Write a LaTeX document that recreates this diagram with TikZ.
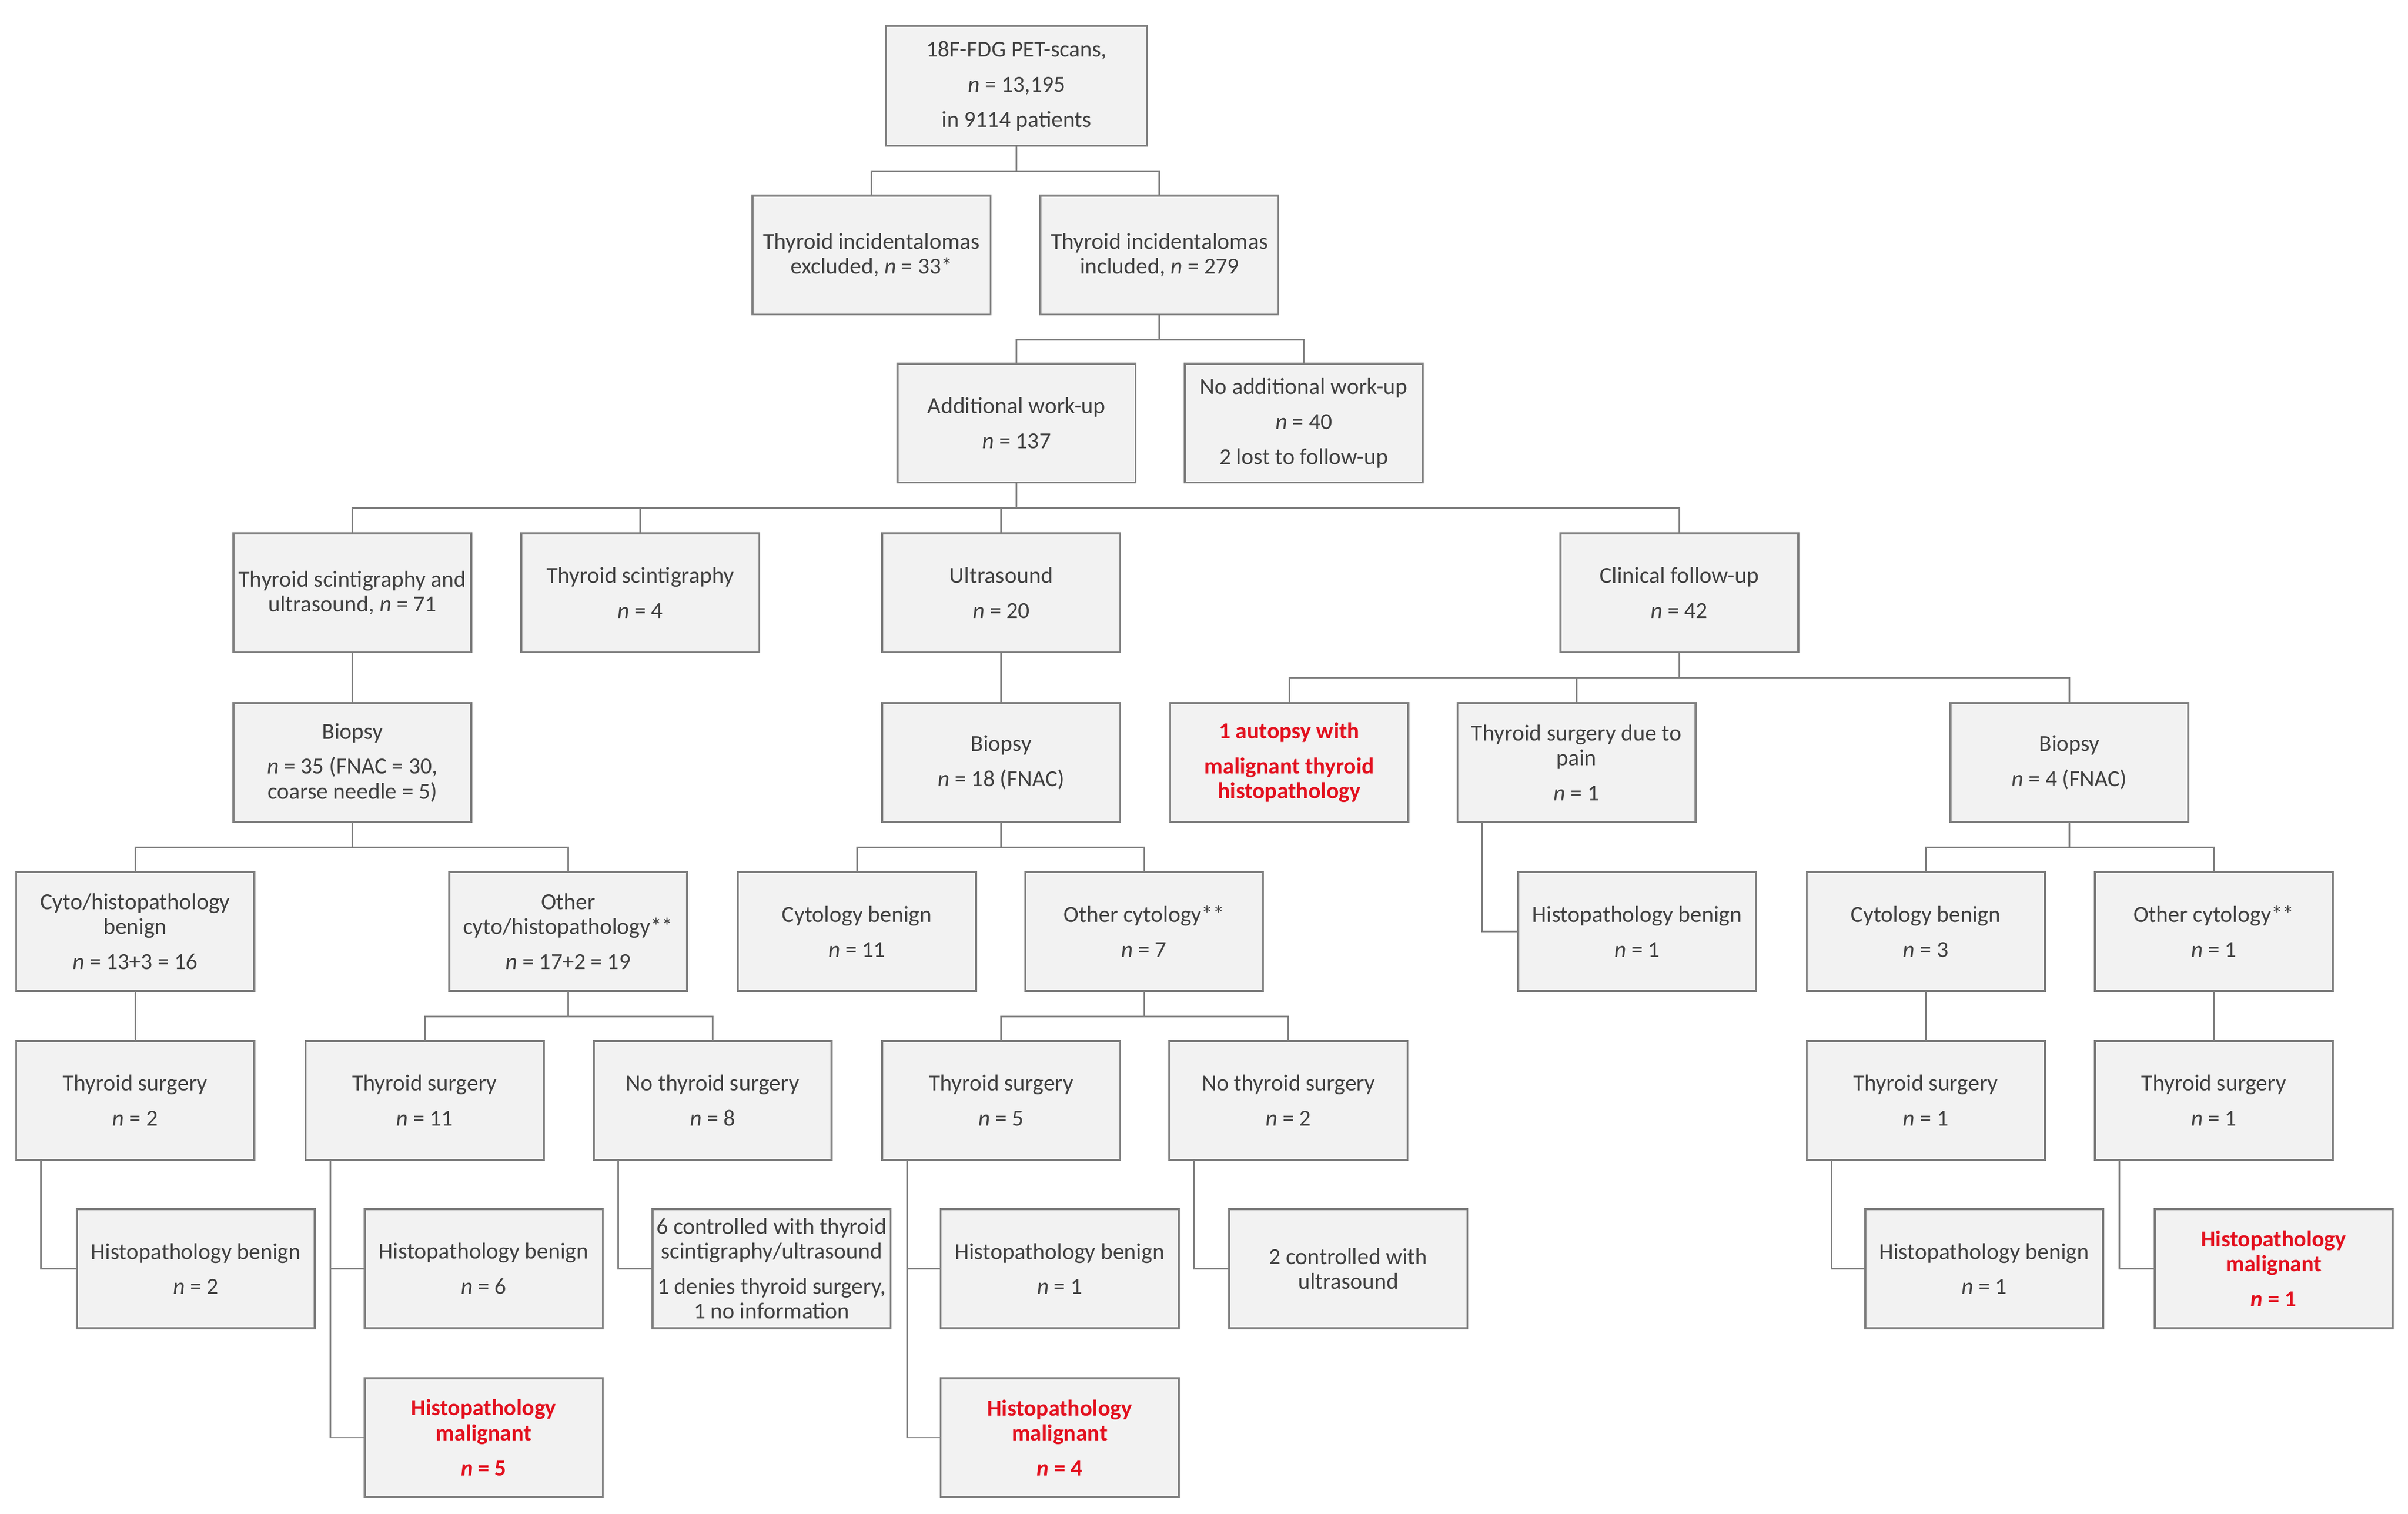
\documentclass[tikz,border=0pt]{standalone}
\usepackage{fontspec}
\setmainfont{Carlito}
\definecolor{boxfill}{HTML}{F2F2F2}
\definecolor{boxdraw}{HTML}{7F7F7F}
\definecolor{txt}{HTML}{404040}
\definecolor{redtxt}{HTML}{E3101E}
\tikzset{
 box/.style={rectangle, draw=boxdraw, fill=boxfill, line width=0.75pt, minimum width=3.1cm, minimum height=1.55cm, inner sep=1pt, outer sep=0pt, align=center, text=txt, font=\fontsize{8.5}{9.2}\selectfont},
 redbox/.style={box, text=redtxt, font=\fontsize{8.5}{9.2}\selectfont\bfseries},
 conn/.style={draw=boxdraw, line width=0.6pt},
}
\newcommand{\nn}{\textit{n}}
\newcommand{\pg}{\\[3.8pt]}
\begin{document}
\begin{tikzpicture}[x=0.02cm,y=-0.02cm]
\useasboundingbox (0,0) rectangle (1568,985.4);
% row 0
\node[box, minimum width=3.4cm, minimum height=1.56cm] (top) at (662,56) {18F-FDG PET-scans,\pg \nn{} = 13,195\pg in 9114 patients};
% row 1
\node[box] (excl) at (567.5,166) {Thyroid incidentalomas\\ excluded, \nn{} = 33*};
\node[box] (incl) at (755,166) {Thyroid incidentalomas\\ included, \nn{} = 279};
% row 2
\node[box] (add) at (662,275.5) {Additional work-up\pg \nn{} = 137};
\node[box] (noadd) at (849,275.5) {No additional work-up\pg \nn{} = 40\pg 2 lost to follow-up};
% row 3
\node[box] (tsu) at (229.5,386) {Thyroid scintigraphy and\\ ultrasound, \nn{} = 71};
\node[box] (ts) at (417,386) {Thyroid scintigraphy\pg \nn{} = 4};
\node[box] (us) at (652,386) {Ultrasound\pg \nn{} = 20};
\node[box] (cf) at (1093.5,386) {Clinical follow-up\pg \nn{} = 42};
% row 4
\node[box] (bx1) at (229.5,496.5) {Biopsy\pg \nn{} = 35 (FNAC = 30,\\ coarse needle = 5)};
\node[box] (bx2) at (652,496.5) {Biopsy\pg \nn{} = 18 (FNAC)};
\node[redbox] (aut) at (839.5,496.5) {1 autopsy with\pg malignant thyroid\\ histopathology};
\node[box] (tsp) at (1026.5,496.5) {Thyroid surgery due to\\ pain\pg \nn{} = 1};
\node[box] (bx3) at (1347.5,496.5) {Biopsy\pg \nn{} = 4 (FNAC)};
% row 5
\node[box] (chb) at (88,606.5) {Cyto/histopathology\\ benign\pg \nn{} = 13+3 = 16};
\node[box] (och) at (370,606.5) {Other\\ cyto/histopathology**\pg \nn{} = 17+2 = 19};
\node[box] (cb11) at (558,606.5) {Cytology benign\pg \nn{} = 11};
\node[box] (oc7) at (745,606.5) {Other cytology**\pg \nn{} = 7};
\node[box] (hbp) at (1066,606.5) {Histopathology benign\pg \nn{} = 1};
\node[box] (cb3) at (1254,606.5) {Cytology benign\pg \nn{} = 3};
\node[box] (oc1) at (1441.5,606.5) {Other cytology**\pg \nn{} = 1};
% row 6
\node[box] (ts2) at (88,716.5) {Thyroid surgery\pg \nn{} = 2};
\node[box] (ts11) at (276.5,716.5) {Thyroid surgery\pg \nn{} = 11};
\node[box] (nts8) at (464,716.5) {No thyroid surgery\pg \nn{} = 8};
\node[box] (ts5) at (652,716.5) {Thyroid surgery\pg \nn{} = 5};
\node[box] (nts2) at (839,716.5) {No thyroid surgery\pg \nn{} = 2};
\node[box] (ts1a) at (1254,716.5) {Thyroid surgery\pg \nn{} = 1};
\node[box] (ts1b) at (1441.5,716.5) {Thyroid surgery\pg \nn{} = 1};
% row 7
\node[box] (hb2) at (127.5,826) {Histopathology benign\pg \nn{} = 2};
\node[box] (hb6) at (315,826) {Histopathology benign\pg \nn{} = 6};
\node[box] (ctrl6) at (502.5,826) {6 controlled with thyroid\\ scintigraphy/ultrasound\pg 1 denies thyroid surgery,\\ 1 no information};
\node[box] (hb1) at (690,826) {Histopathology benign\pg \nn{} = 1};
\node[box] (ctrl2) at (878,826) {2 controlled with\\ ultrasound};
\node[box] (hb1b) at (1292,826) {Histopathology benign\pg \nn{} = 1};
\node[redbox] (hm1) at (1480.5,826) {Histopathology\\ malignant\pg \nn{} = 1};
% row 8
\node[redbox] (hm5) at (315,936) {Histopathology\\ malignant\pg \nn{} = 5};
\node[redbox] (hm4) at (690,936) {Histopathology\\ malignant\pg \nn{} = 4};
% tree connectors
\foreach \p/\c in {top/excl, top/incl, incl/add, incl/noadd, add/tsu, add/ts, add/us, add/cf,
  tsu/bx1, us/bx2, cf/aut, cf/tsp, cf/bx3, bx1/chb, bx1/och, bx2/cb11, bx2/oc7, bx3/cb3, bx3/oc1,
  chb/ts2, och/ts11, och/nts8, oc7/ts5, oc7/nts2, cb3/ts1a, oc1/ts1b}
  \draw[conn] (\p.south) -- ++(0,16.5) -| (\c.north);
% elbow connectors
\foreach \p/\c in {tsp/hbp, ts2/hb2, ts11/hb6, ts11/hm5, nts8/ctrl6, ts5/hb1, ts5/hm4, nts2/ctrl2, ts1a/hb1b, ts1b/hm1}
  \draw[conn] ([xshift=0.32cm]\p.south west) |- (\c.west);
\end{tikzpicture}
\end{document}
